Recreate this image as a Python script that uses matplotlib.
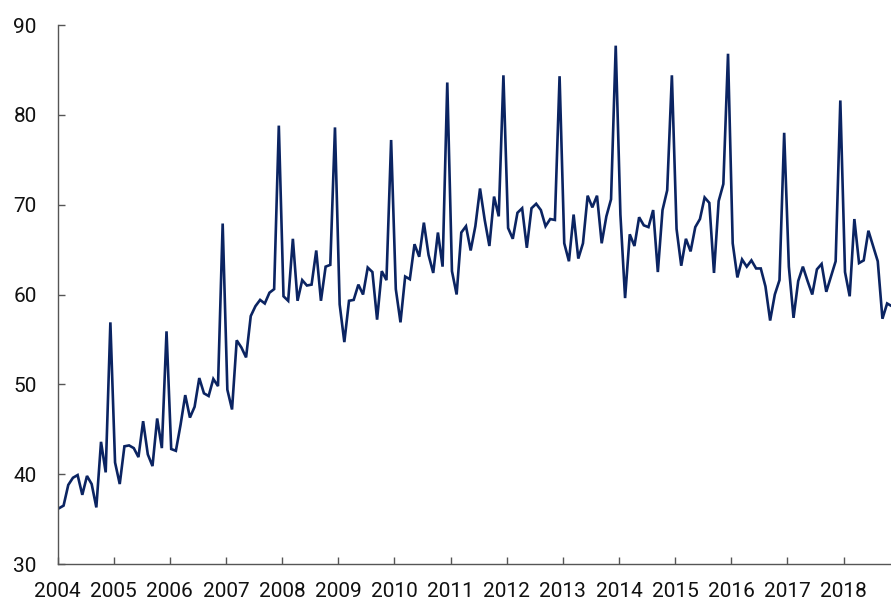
import matplotlib
matplotlib.use("Agg")
import matplotlib.pyplot as plt
import numpy as np

plt.rcParams['font.family'] = ['Roboto', 'DejaVu Sans']

start_year = 2004
v2004 = [36.2, 36.5, 38.8, 39.6, 39.9, 37.7, 39.8, 38.9, 36.3, 43.6, 40.2, 56.9]
v2005 = [41.3, 38.9, 43.1, 43.2, 42.9, 41.9, 45.9, 42.2, 40.9, 46.2, 42.9, 55.9]
v2006 = [42.8, 42.6, 45.5, 48.8, 46.3, 47.5, 50.7, 49.0, 48.7, 50.6, 49.8, 67.9]
v2007 = [49.4, 47.2, 54.9, 54.1, 53.0, 57.6, 58.7, 59.4, 59.0, 60.2, 60.6, 78.8]
v2008 = [59.8, 59.3, 66.2, 59.3, 61.6, 61.0, 61.1, 64.9, 59.3, 63.1, 63.3, 78.6]
v2009 = [58.9, 54.7, 59.3, 59.4, 61.1, 60.0, 63.0, 62.5, 57.2, 62.6, 61.6, 77.2]
v2010 = [60.6, 56.9, 62.0, 61.7, 65.6, 64.2, 68.0, 64.4, 62.4, 66.9, 63.1, 83.6]
v2011 = [62.6, 60.0, 66.9, 67.6, 64.9, 67.6, 71.8, 68.3, 65.4, 70.9, 68.7, 84.4]
v2012 = [67.4, 66.2, 69.1, 69.6, 65.2, 69.6, 70.1, 69.4, 67.6, 68.4, 68.3, 84.3]
v2013 = [65.7, 63.7, 68.9, 64.0, 65.7, 71.0, 69.7, 71.0, 65.7, 68.7, 70.6, 87.7]
v2014 = [68.9, 59.6, 66.7, 65.4, 68.6, 67.7, 67.5, 69.4, 62.5, 69.4, 71.6, 84.4]
v2015 = [67.3, 63.2, 66.2, 64.8, 67.5, 68.4, 70.8, 70.2, 62.4, 70.4, 72.3, 86.8]
v2016 = [65.7, 61.9, 63.9, 63.1, 63.8, 62.9, 62.9, 60.9, 57.1, 60.0, 61.6, 78.0]
v2017 = [63.1, 57.4, 61.5, 63.1, 61.5, 60.0, 62.8, 63.4, 60.3, 62.0, 63.7, 81.6]
v2018 = [62.5, 59.8, 68.4, 63.5, 63.8, 67.1, 65.4, 63.7, 57.3, 59.0, 58.7]

values = (v2004 + v2005 + v2006 + v2007 + v2008 + v2009 + v2010 + v2011 +
          v2012 + v2013 + v2014 + v2015 + v2016 + v2017 + v2018)
n = len(values)
# monthly positions (roughly mid-month) in fractional years
t = start_year + (np.arange(n) + 0.3) / 12.0

year_ticks = list(range(2004, 2019))
y_ticks = [30, 40, 50, 60, 70, 80, 90]

fig = plt.figure(figsize=(8.91, 6.01), dpi=100)
ax = fig.add_axes([57.5 / 891, 37 / 601, (891 - 57.5) / 891, (564 - 25) / 601])

ax.plot(t, values, color='#0b2462', linewidth=1.9, solid_joinstyle='miter')

ax.set_ylim(30, 90)
ax.set_xlim(2004, 2004 + (891 - 57.5) / 56.15)
ax.set_xticks(year_ticks)
ax.set_xticklabels([str(y) for y in year_ticks])
ax.set_yticks(y_ticks)

for s in ['top', 'right']:
    ax.spines[s].set_visible(False)
for s in ['left', 'bottom']:
    ax.spines[s].set_color('#555555')
    ax.spines[s].set_linewidth(1.0)

ax.tick_params(axis='both', direction='in', length=5, width=1.0, color='#555555',
               labelsize=15, labelcolor='#111111')
ax.tick_params(axis='y', pad=15)
ax.tick_params(axis='x', pad=13)

fig.savefig('out.png', dpi=100)
